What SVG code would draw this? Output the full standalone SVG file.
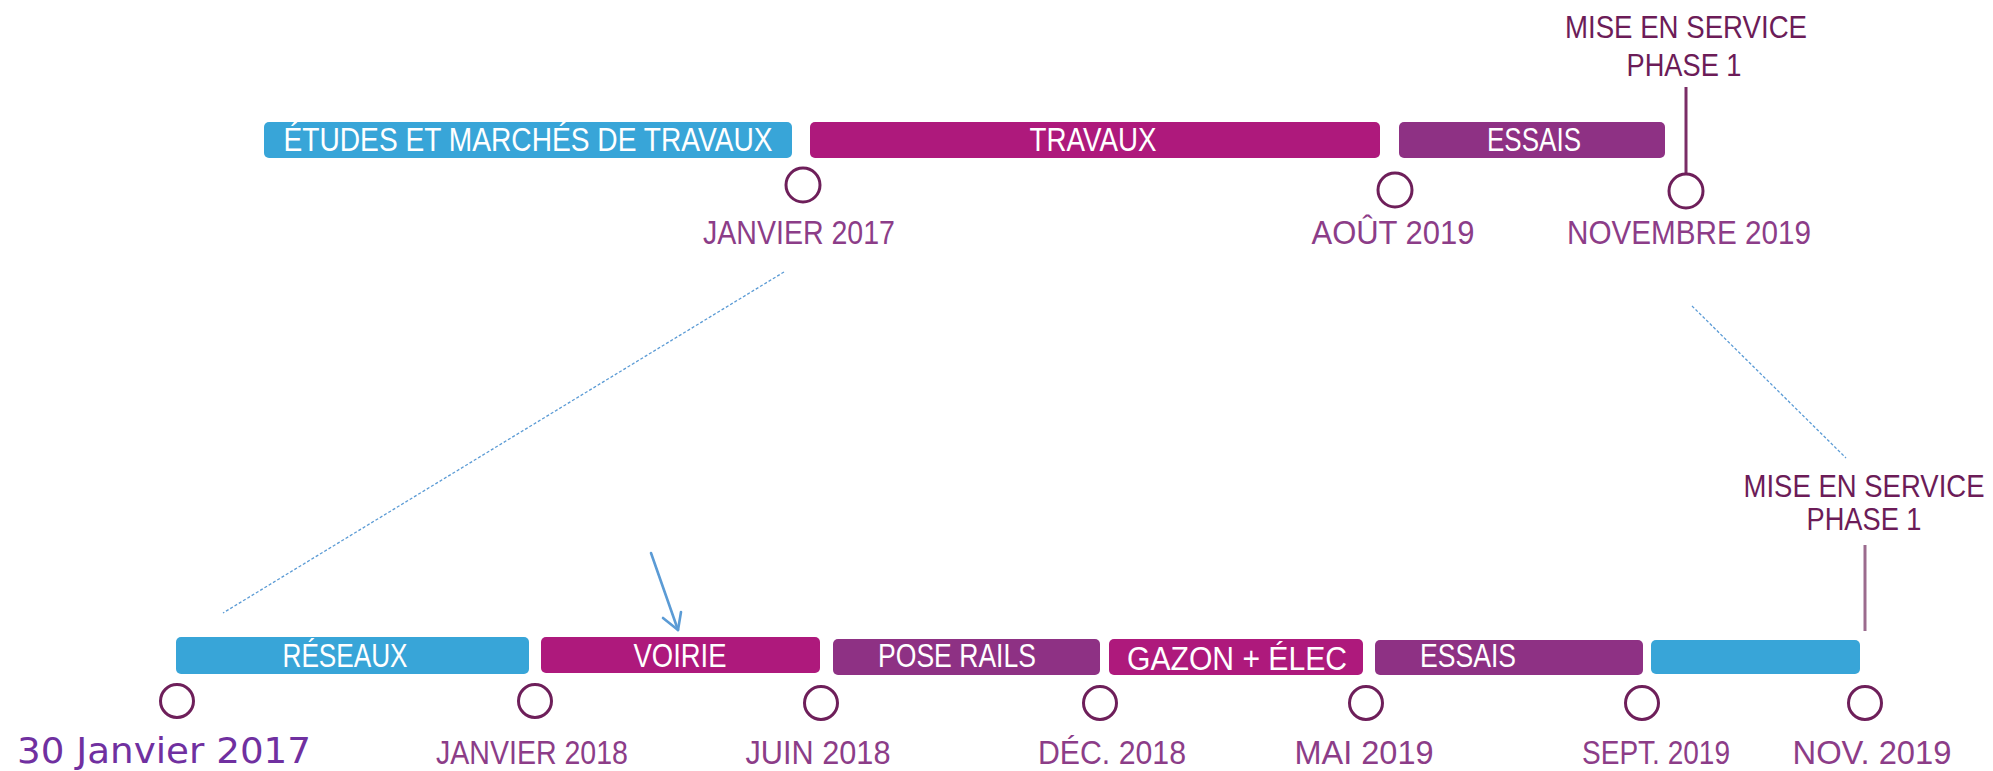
<svg xmlns="http://www.w3.org/2000/svg" width="1993" height="771" viewBox="0 0 1993 771">
<style>
.blue{fill:#38a5d8}
.mag{fill:#ae197c}
.pur{fill:#8e3184}
.bt{font-family:"Liberation Sans",Arial,sans-serif;font-size:33px;fill:#ffffff;text-anchor:middle}
.dt{font-family:"Liberation Sans",Arial,sans-serif;font-size:33px;fill:#8c3d88;text-anchor:middle}
.ms{font-family:"Liberation Sans",Arial,sans-serif;font-size:32px;fill:#6c1c58;text-anchor:middle}
.ring{fill:none;stroke:#6e1f5a;stroke-width:3}
.dash{fill:none;stroke:#5b9bd5;stroke-width:1.3;stroke-dasharray:3 2}
</style>
<rect width="1993" height="771" fill="#ffffff"/>
<g id="connectors">
<line class="dash" x1="784" y1="272" x2="223" y2="613"/>
<line class="dash" x1="1692" y1="306" x2="1846" y2="458"/>
<line x1="1686" y1="87" x2="1686" y2="174" stroke="#7a2d66" stroke-width="3"/>
<line x1="1865" y1="545" x2="1865" y2="631" stroke="#9b6b8e" stroke-width="3"/>
<g fill="none" stroke="#5b9bd5" stroke-width="2.6" stroke-linecap="round" stroke-linejoin="round">
<line x1="651" y1="553" x2="678" y2="630"/>
<polyline points="663,618 678,630 681,612"/>
</g>
</g>
<g id="etudes"><rect class="blue" x="264" y="122" width="528" height="36" rx="5"/><text class="bt" x="528" y="151" textLength="489" lengthAdjust="spacingAndGlyphs">ÉTUDES ET MARCHÉS DE TRAVAUX</text></g>
<g id="travaux"><rect class="mag" x="810" y="122" width="570" height="36" rx="5"/><text class="bt" x="1093" y="151" textLength="127" lengthAdjust="spacingAndGlyphs">TRAVAUX</text></g>
<g id="essais-top"><rect class="pur" x="1399" y="122" width="266" height="36" rx="5"/><text class="bt" x="1534" y="151" textLength="94" lengthAdjust="spacingAndGlyphs">ESSAIS</text></g>
<g id="m-janv2017"><circle class="ring" cx="803" cy="185" r="17"/><text class="dt" x="799" y="244" textLength="192" lengthAdjust="spacingAndGlyphs">JANVIER 2017</text></g>
<g id="m-aout2019"><circle class="ring" cx="1395" cy="190" r="17"/><text class="dt" x="1393" y="244" textLength="163" lengthAdjust="spacingAndGlyphs">AOÛT 2019</text></g>
<g id="m-nov2019"><circle class="ring" cx="1686" cy="191" r="17"/><text class="dt" x="1689" y="244" textLength="244" lengthAdjust="spacingAndGlyphs">NOVEMBRE 2019</text></g>
<g id="mes-top"><text class="ms" x="1686" y="38" textLength="242" lengthAdjust="spacingAndGlyphs">MISE EN SERVICE</text><text class="ms" x="1684" y="76" textLength="115" lengthAdjust="spacingAndGlyphs">PHASE 1</text></g>
<g id="reseaux"><rect class="blue" x="176" y="637" width="353" height="37" rx="5"/><text class="bt" x="345" y="667" textLength="125" lengthAdjust="spacingAndGlyphs">RÉSEAUX</text></g>
<g id="voirie"><rect class="mag" x="541" y="637" width="279" height="36" rx="5"/><text class="bt" x="680" y="667" textLength="93" lengthAdjust="spacingAndGlyphs">VOIRIE</text></g>
<g id="pose-rails"><rect class="pur" x="833" y="639" width="267" height="36" rx="5"/><text class="bt" x="957" y="667" textLength="158" lengthAdjust="spacingAndGlyphs">POSE RAILS</text></g>
<g id="gazon"><rect class="mag" x="1109" y="639" width="254" height="36" rx="5"/><text class="bt" x="1237" y="670" textLength="220" lengthAdjust="spacingAndGlyphs">GAZON + ÉLEC</text></g>
<g id="essais-bottom"><rect class="pur" x="1375" y="640" width="268" height="35" rx="5"/><text class="bt" x="1468" y="667" textLength="96" lengthAdjust="spacingAndGlyphs">ESSAIS</text></g>
<g id="blank-bar"><rect class="blue" x="1651" y="640" width="209" height="34" rx="5"/></g>
<g id="b-start"><circle class="ring" cx="177" cy="701" r="16.5"/></g>
<g id="b-janv2018"><circle class="ring" cx="535" cy="701" r="16.5"/><text class="dt" x="532" y="764" textLength="192" lengthAdjust="spacingAndGlyphs">JANVIER 2018</text></g>
<g id="b-juin2018"><circle class="ring" cx="821" cy="703" r="16.5"/><text class="dt" x="818" y="764" textLength="145" lengthAdjust="spacingAndGlyphs">JUIN 2018</text></g>
<g id="b-dec2018"><circle class="ring" cx="1100" cy="703" r="16.5"/><text class="dt" x="1112" y="764" textLength="148" lengthAdjust="spacingAndGlyphs">DÉC. 2018</text></g>
<g id="b-mai2019"><circle class="ring" cx="1366" cy="703" r="16.5"/><text class="dt" x="1364" y="764" textLength="139" lengthAdjust="spacingAndGlyphs">MAI 2019</text></g>
<g id="b-sept2019"><circle class="ring" cx="1642" cy="703" r="16.5"/><text class="dt" x="1656" y="764" textLength="148" lengthAdjust="spacingAndGlyphs">SEPT. 2019</text></g>
<g id="b-nov2019"><circle class="ring" cx="1865" cy="703" r="16.5"/><text class="dt" x="1872" y="764" textLength="159" lengthAdjust="spacingAndGlyphs">NOV. 2019</text></g>
<g id="mes-bottom"><text class="ms" transform="translate(1864,497) scale(0.86,1)" x="0" y="0">MISE EN SERVICE</text><text class="ms" x="1864" y="530" textLength="115" lengthAdjust="spacingAndGlyphs">PHASE 1</text></g>
<g id="date-caption"><text x="17" y="763" font-family="'DejaVu Sans',Verdana,sans-serif" font-size="35" fill="#7030a0" textLength="294" lengthAdjust="spacingAndGlyphs">30 Janvier 2017</text></g>
</svg>
